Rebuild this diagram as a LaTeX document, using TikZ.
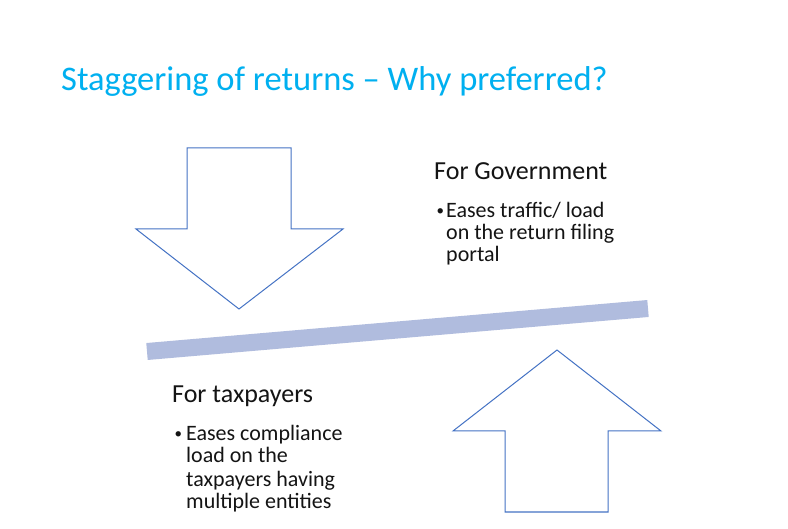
\documentclass[tikz,border=0pt]{standalone}
\usepackage{fontspec}
\setmainfont{Carlito}
\definecolor{titleblue}{RGB}{0,176,240}
\definecolor{arrowblue}{RGB}{68,114,196}
\definecolor{barblue}{RGB}{176,188,222}
\definecolor{txt}{RGB}{20,20,20}
\begin{document}
\begin{tikzpicture}[x=1pt,y=-1pt,
  arrowshape/.style={draw=arrowblue,line width=1pt,line join=miter,fill=white},
  titletext/.style={anchor=base west,inner sep=0pt,text=titleblue,font=\fontsize{34.5}{40}\selectfont},
  headtext/.style={anchor=base west,inner sep=0pt,text=txt,font=\fontsize{26}{30}\selectfont},
  bodytext/.style={anchor=base west,inner sep=0pt,text=txt,font=\fontsize{22}{26}\selectfont},
  bullettext/.style={anchor=base west,inner sep=0pt,text=txt,font=\fontsize{15}{18}\selectfont}]
\useasboundingbox (0,0) rectangle (788,529);
\fill[white] (0,0) rectangle (788,529);
% title
\node[titletext] (title) at (61,91) {Staggering of returns – Why preferred?};
% down arrow
\draw[arrowshape] (187,148) -- (291,148) -- (291,229) -- (343,229) -- (239,309) -- (136,229) -- (187,229) -- cycle;
% bar
\draw[barblue,line width=17pt] (147,351.5) -- (648,308.5);
% up arrow
\draw[arrowshape] (557,350) -- (661,431) -- (608,431) -- (608,512) -- (505,512) -- (505,431) -- (453,431) -- cycle;
% government text
\node[headtext] (govhead) at (434,180) {For Government};
\node[bullettext] (govbul) at (436.5,216) {•};
\node[bodytext] (gov1) at (446,218) {Eases traffic/ load};
\node[bodytext] (gov2) at (446,240) {on the return filing};
\node[bodytext] (gov3) at (446,262) {portal};
% taxpayers text
\node[headtext] (taxhead) at (172,403) {For taxpayers};
\node[bullettext] (taxbul) at (174.5,439) {•};
\node[bodytext] (tax1) at (186,441) {Eases compliance};
\node[bodytext] (tax2) at (186,463) {load on the};
\node[bodytext] (tax3) at (186,486) {taxpayers having};
\node[bodytext] (tax4) at (186,508) {multiple entities};
\end{tikzpicture}
\end{document}
